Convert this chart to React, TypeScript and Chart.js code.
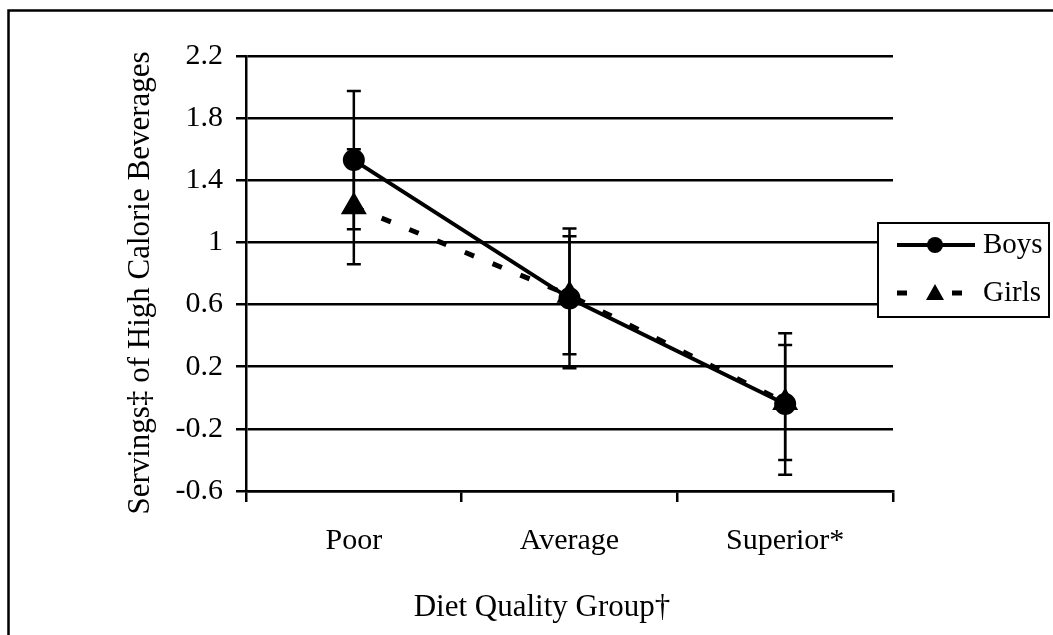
import React, { useEffect, useRef } from "react";
import { Chart, registerables } from "chart.js";

Chart.register(...registerables);

// ---- data ----
const categories = ["Poor", "Average", "Superior*"];
const seriesNames = ["Boys", "Girls"];
const boysMeans = [1.53, 0.64, -0.04];
const girlsMeans = [1.23, 0.66, -0.03];
const boysErrors = [0.445, 0.45, 0.455];
const girlsErrors = [0.37, 0.38, 0.37];
const yMin = -0.6;
const yMax = 2.2;
const yStep = 0.4;
const yTitle = "Servings\u2021 of High Calorie Beverages";
const xTitle = "Diet Quality Group\u2020";

const FONT = '"Liberation Serif", "Times New Roman", serif';
const W = 1053;
const H = 635;

const errorBarPlugin = {
  id: "errorBars",
  afterDatasetsDraw(chart: any) {
    const ctx = chart.ctx;
    const yScale = chart.scales.y;
    chart.data.datasets.forEach((ds: any, i: number) => {
      const meta = chart.getDatasetMeta(i);
      const errs: number[] = ds.errors || [];
      meta.data.forEach((pt: any, j: number) => {
        const v = ds.data[j];
        const e = errs[j];
        if (v == null || e == null) return;
        const x = pt.x;
        const yTop = yScale.getPixelForValue(v + e);
        const yBot = yScale.getPixelForValue(v - e);
        ctx.save();
        ctx.strokeStyle = "#000";
        ctx.lineWidth = 2.5;
        ctx.setLineDash([]);
        ctx.beginPath();
        ctx.moveTo(x, yTop);
        ctx.lineTo(x, yBot);
        ctx.moveTo(x - 7, yTop);
        ctx.lineTo(x + 7, yTop);
        ctx.moveTo(x - 7, yBot);
        ctx.lineTo(x + 7, yBot);
        ctx.stroke();
        ctx.restore();
      });
    });
  },
};

const decorPlugin = {
  id: "decor",
  afterDraw(chart: any) {
    const ctx = chart.ctx;
    ctx.save();
    // outer frame
    ctx.strokeStyle = "#000";
    ctx.lineWidth = 2.5;
    ctx.setLineDash([]);
    ctx.strokeRect(8.5, 10.5, 1200, 800);

    // axis titles
    ctx.fillStyle = "#000";
    ctx.font = `31px ${FONT}`;
    ctx.textAlign = "center";
    ctx.textBaseline = "middle";
    ctx.fillText(xTitle, 542, 608);
    ctx.save();
    ctx.translate(141, 283);
    ctx.rotate(-Math.PI / 2);
    ctx.fillText(yTitle, 0, 0);
    ctx.restore();

    // legend
    const lx = 878, ly = 223, lw = 171, lh = 94;
    ctx.fillStyle = "#fff";
    ctx.fillRect(lx, ly, lw, lh);
    ctx.strokeStyle = "#000";
    ctx.lineWidth = 2;
    ctx.strokeRect(lx, ly, lw, lh);

    const rows = [
      { name: seriesNames[0], y: 245, dash: [] as number[], lw: 4, style: "circle" },
      { name: seriesNames[1], y: 293, dash: [10, 45], lw: 5, style: "triangle" },
    ];
    rows.forEach((r) => {
      ctx.beginPath();
      ctx.setLineDash(r.dash);
      ctx.lineWidth = r.lw;
      ctx.moveTo(897, r.y);
      ctx.lineTo(r.style === "circle" ? 975 : 962, r.y);
      ctx.stroke();
      ctx.setLineDash([]);
      ctx.fillStyle = "#000";
      ctx.beginPath();
      if (r.style === "circle") {
        ctx.arc(935, r.y, 8, 0, Math.PI * 2);
      } else {
        ctx.moveTo(935, r.y - 9);
        ctx.lineTo(944, r.y + 7);
        ctx.lineTo(926, r.y + 7);
        ctx.closePath();
      }
      ctx.fill();
      ctx.font = `29px ${FONT}`;
      ctx.textAlign = "left";
      ctx.textBaseline = "middle";
      ctx.fillText(r.name, 983, r.y);
    });
    ctx.restore();
  },
};

export default function App() {
  const ref = useRef<HTMLCanvasElement | null>(null);

  useEffect(() => {
    if (!ref.current) return;
    const chart = new Chart(ref.current, {
      type: "line",
      data: {
        labels: categories,
        datasets: [
          {
            label: seriesNames[0],
            data: boysMeans,
            errors: boysErrors,
            borderColor: "#000",
            backgroundColor: "#000",
            borderWidth: 4,
            pointStyle: "circle",
            pointRadius: 9,
            pointBackgroundColor: "#000",
            pointBorderColor: "#000",
            tension: 0,
          } as any,
          {
            label: seriesNames[1],
            data: girlsMeans,
            errors: girlsErrors,
            borderColor: "#000",
            backgroundColor: "#000",
            borderWidth: 5,
            borderDash: [10, 20],
            pointStyle: "triangle",
            pointRadius: 10,
            pointBackgroundColor: "#000",
            pointBorderColor: "#000",
            tension: 0,
          } as any,
        ],
      },
      options: {
        responsive: false,
        devicePixelRatio: 1,
        animation: false,
        layout: { padding: { left: 105, top: 56, right: 160, bottom: 0 } },
        plugins: {
          legend: { display: false },
          tooltip: { enabled: false },
        },
        scales: {
          x: {
            type: "category",
            offset: true,
            afterFit: (s: any) => {
              s.height = H - 491;
            },
            grid: {
              display: true,
              offset: true,
              drawOnChartArea: false,
              drawTicks: true,
              tickLength: 11,
              color: "#000",
              lineWidth: 2.5,
            },
            border: { display: true, color: "#000", width: 2.5 },
            ticks: {
              color: "#000",
              padding: 21,
              font: { family: FONT, size: 30 },
              maxRotation: 0,
            },
          },
          y: {
            type: "linear",
            min: yMin,
            max: yMax,
            afterFit: (s: any) => {
              s.width = 141;
            },
            grid: {
              display: true,
              drawOnChartArea: true,
              drawTicks: true,
              tickLength: 10,
              color: "#000",
              lineWidth: 2.5,
            },
            border: { display: true, color: "#000", width: 2.5 },
            ticks: {
              stepSize: yStep,
              color: "#000",
              padding: 13,
              font: { family: FONT, size: 30 },
              callback: (v: any) => String(Number(Number(v).toFixed(1))),
            },
          },
        },
      },
      plugins: [errorBarPlugin, decorPlugin],
    } as any);
    return () => chart.destroy();
  }, []);

  return (
    <canvas
      ref={ref}
      width={W}
      height={H}
      style={{ position: "absolute", left: 0, top: 0, width: W, height: H, display: "block", background: "#fff" }}
    />
  );
}
